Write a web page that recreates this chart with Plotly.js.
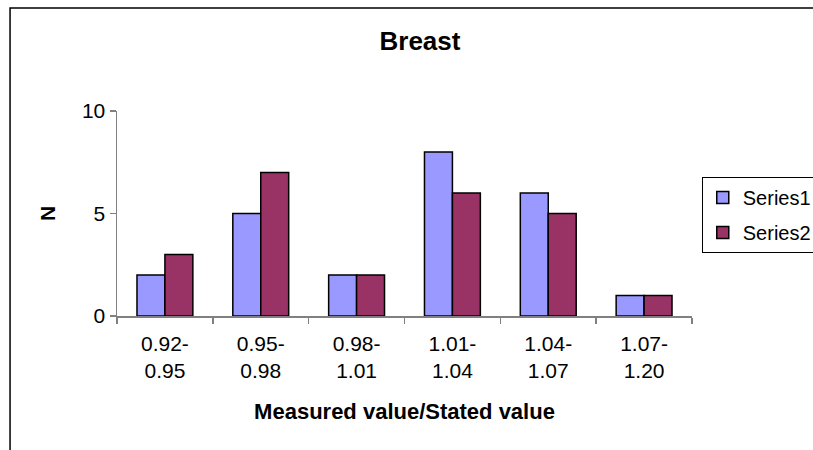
<!DOCTYPE html>
<html>
<head>
<meta charset="utf-8">
<script src="https://cdn.plot.ly/plotly-3.0.1.min.js"></script>
<style>html,body{margin:0;padding:0;background:#fff;}#chart{width:813px;height:450px;}</style>
</head>
<body>
<div id="chart"></div>
<script>
const categories = ["0.92-<br>0.95", "0.95-<br>0.98", "0.98-<br>1.01", "1.01-<br>1.04", "1.04-<br>1.07", "1.07-<br>1.20"];
const series1 = [2, 5, 2, 8, 6, 1];
const series2 = [3, 7, 2, 6, 5, 1];
const seriesNames = ["Series1", "Series2"];
const yTicks = [0, 5, 10];

const FONT = "Liberation Sans, Arial, sans-serif";

const traces = [
  {type: "bar", name: seriesNames[0], x: categories, y: series1, legendgroup: "a",
   marker: {color: "#9999FF", line: {color: "#000000", width: 1.5}}},
  {type: "bar", name: seriesNames[1], x: categories, y: series2, legendgroup: "b",
   marker: {color: "#993366", line: {color: "#000000", width: 1.5}}}
];

const layout = {
  width: 813, height: 450,
  margin: {l: 117, r: 121, t: 111, b: 134, autoexpand: false},
  paper_bgcolor: "#ffffff", plot_bgcolor: "#ffffff",
  font: {family: FONT, color: "#000000", size: 21},
  barmode: "group", bargap: 0.417, bargroupgap: 0,
  title: {text: "<b>Breast</b>", font: {family: FONT, size: 26, color: "#000"},
          x: 0.5166, xref: "container", xanchor: "center", y: 0.91, yanchor: "middle"},
  xaxis: {
    type: "category", tickson: "boundaries", ticks: "outside", ticklen: 6, tickwidth: 1.5, tickcolor: "#808080",
    showline: true, linecolor: "#808080", linewidth: 1.5, showgrid: false, zeroline: false,
    tickfont: {family: FONT, size: 21}, automargin: false, ticklabelstandoff: 8,
    title: {text: "<b>Measured value/Stated value</b>", font: {family: FONT, size: 22}, standoff: 22}
  },
  yaxis: {
    range: [0, 10], tickvals: yTicks, ticktext: yTicks.map(String), ticks: "outside", ticklen: 6, tickwidth: 1.5, tickcolor: "#808080",
    showline: true, linecolor: "#808080", linewidth: 1.5, showgrid: false, zeroline: false,
    tickfont: {family: FONT, size: 21}, automargin: false,
    title: {text: "<b>N</b>", font: {family: FONT, size: 21}, standoff: 20}
  },
  showlegend: true,
  legend: {x: 1.017, xanchor: "left", y: 0.678, yanchor: "top",
           bordercolor: "#000000", borderwidth: 1, bgcolor: "#ffffff",
           font: {family: FONT, size: 20}, traceorder: "grouped", tracegroupgap: 6},
  shapes: [
    {type: "rect", xref: "paper", yref: "paper", x0: -0.186, x1: 1.4, y0: -1.0, y1: 1.502,
     line: {color: "#000000", width: 1.5}, fillcolor: "rgba(0,0,0,0)", layer: "below"}
  ]
};

Plotly.newPlot("chart", traces, layout, {displayModeBar: false, staticPlot: true});
</script>
</body>
</html>
